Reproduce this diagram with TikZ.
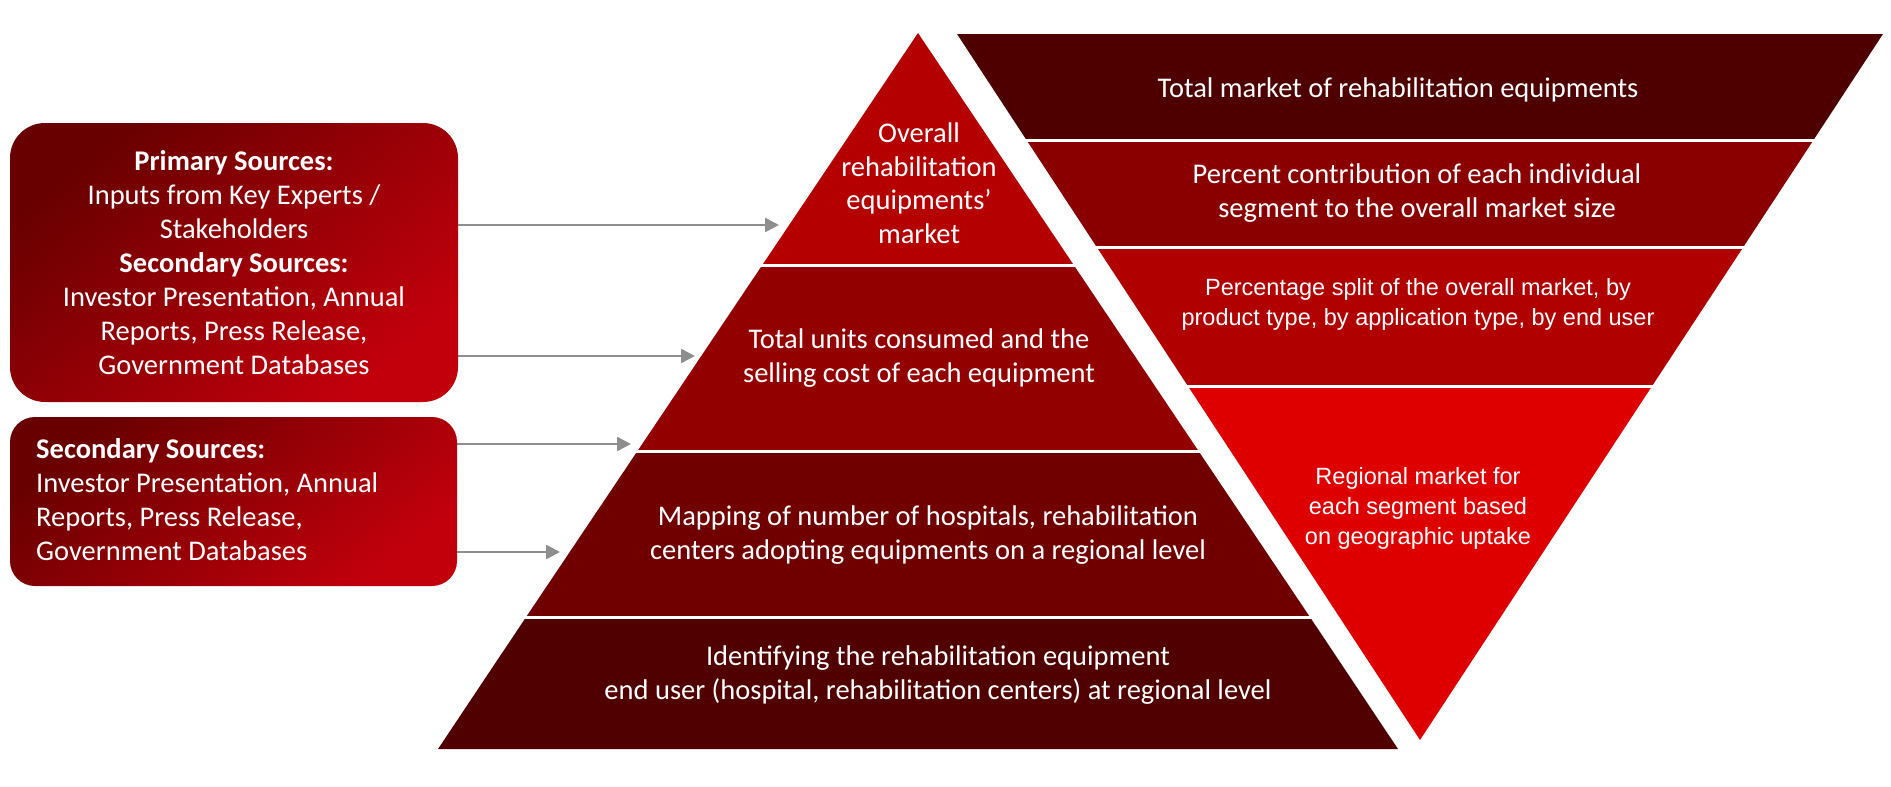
\documentclass[tikz,border=0pt]{standalone}
\usepackage{fontspec}
\setmainfont{Carlito}
\newfontfamily\arialf{Liberation Sans}
\usetikzlibrary{arrows.meta}
\definecolor{pyrA}{HTML}{B40000}
\definecolor{pyrB}{HTML}{930000}
\definecolor{pyrC}{HTML}{700000}
\definecolor{pyrD}{HTML}{500000}
\definecolor{invA}{HTML}{4E0000}
\definecolor{invB}{HTML}{8A0000}
\definecolor{invC}{HTML}{B00000}
\definecolor{invD}{HTML}{DE0000}
\definecolor{boxdark}{HTML}{680000}
\definecolor{boxlight}{HTML}{C2000C}
\definecolor{arrowgray}{HTML}{8E8E8E}
\tikzset{
  sep/.style={draw=white, line width=3pt},
  txt/.style={text=white, align=center, inner sep=0pt, font=\fontsize{28.5}{33.5}\selectfont},
  ntxt/.style={text=white, align=center, inner sep=0pt, font=\arialf\fontsize{23.5}{30}\selectfont},
  srcbox/.style={shade, top color=boxdark, bottom color=boxlight, shading angle=40, draw=none, text=white, inner sep=0pt, font=\fontsize{28.5}{34}\selectfont},
  arr/.style={draw=arrowgray, line width=2.5pt, -{Triangle[length=14pt,width=14pt]}}
}
\begin{document}
\begin{tikzpicture}[x=1pt,y=-1pt]
\useasboundingbox[fill=white] (0,0) rectangle (1891,787);

% upward pyramid
\fill[pyrA] (918,33) -- (1073.7,265) -- (762.3,265) -- cycle;
\fill[pyrB] (762.3,265) -- (1073.7,265) -- (1198.5,451) -- (637.5,451) -- cycle;
\fill[pyrC] (637.5,451) -- (1198.5,451) -- (1309.9,617) -- (526.1,617) -- cycle;
\fill[pyrD] (526.1,617) -- (1309.9,617) -- (1398,749) -- (438,749) -- cycle;
\draw[sep] (760,265) -- (1076,265);
\draw[sep] (635,451) -- (1201,451);
\draw[sep] (524,617) -- (1312,617);

% inverted pyramid
\fill[invA] (957,34) -- (1883,34) -- (1813.5,140) -- (1026.5,140) -- cycle;
\fill[invB] (1026.5,140) -- (1813.5,140) -- (1743.3,247) -- (1096.7,247) -- cycle;
\fill[invC] (1096.7,247) -- (1743.3,247) -- (1652.1,386) -- (1187.9,386) -- cycle;
\fill[invD] (1187.9,386) -- (1652.1,386) -- (1420,740) -- cycle;
\draw[sep] (1024,140) -- (1816,140);
\draw[sep] (1094,247) -- (1746,247);
\draw[sep] (1185,386) -- (1655,386);

% pyramid texts
\node[txt] (p1) at (919,183) {Overall\\rehabilitation\\equipments’\\market};
\node[txt] (p2) at (919,358) {Total units consumed and the\\selling cost of each equipment};
\node[txt] (p3) at (928,535) {Mapping of number of hospitals, rehabilitation\\centers adopting equipments on a regional level};
\node[txt] (p4) at (938,675) {Identifying the rehabilitation equipment\\end user (hospital, rehabilitation centers) at regional level};

% inverted texts
\node[txt] (i1) at (1398,90) {Total market of rehabilitation equipments};
\node[txt] (i2) at (1417,193) {Percent contribution of each individual\\segment to the overall market size};
\node[ntxt] (i3) at (1418,304) {Percentage split of the overall market, by\\product type, by application type, by end user};
\node[ntxt] (i4) at (1418,508) {Regional market for\\each segment based\\on geographic uptake};

% source boxes
\node[srcbox, rounded corners=35pt, minimum width=448pt, minimum height=279pt, align=center] (b1) at (234,262.5)
  {\textbf{Primary Sources:}\\Inputs from Key Experts /\\Stakeholders\\\textbf{Secondary Sources:}\\Investor Presentation, Annual\\Reports, Press Release,\\Government Databases};
\node[srcbox, rounded corners=25pt, minimum width=447pt, minimum height=169pt] (b2) at (233.5,501.5) {};
\node[txt, font=\fontsize{28.5}{34}\selectfont, align=left, anchor=west] (b2t) at (36,500)
  {\textbf{Secondary Sources:}\\Investor Presentation, Annual\\Reports, Press Release,\\Government Databases};

% arrow targets
\coordinate (t1) at (779,225);
\coordinate (t2) at (695,356);
\coordinate (t3) at (631,444);
\coordinate (t4) at (560,552);
\draw[arr] (b1.east |- t1) -- (t1);
\draw[arr] (b1.east |- t2) -- (t2);
\draw[arr] (b2.east |- t3) -- (t3);
\draw[arr] (b2.east |- t4) -- (t4);
\end{tikzpicture}
\end{document}
